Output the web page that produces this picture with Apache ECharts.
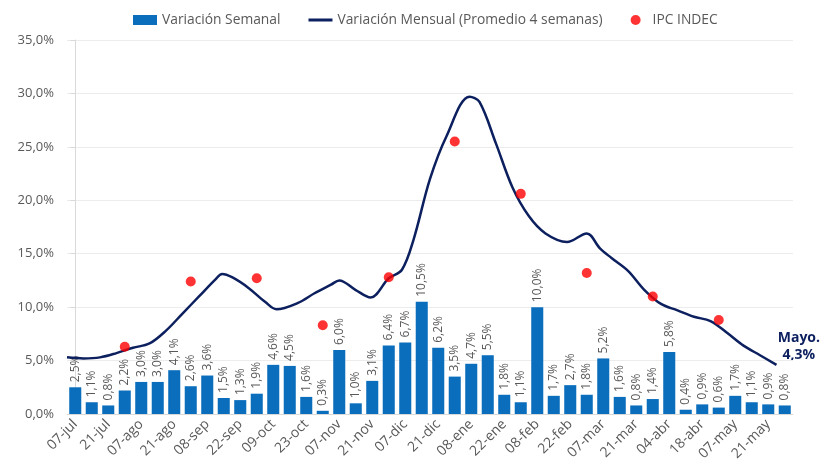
<!DOCTYPE html>
<html>
<head>
<meta charset="utf-8">
<script src="https://cdn.jsdelivr.net/npm/echarts@6/dist/echarts.min.js"></script>
<style>html,body{margin:0;padding:0;background:#fff}#c{width:827px;height:469px}</style>
</head>
<body>
<div id="c"></div>
<script>
// Weekly categories (every second one is labelled on the axis)
var weeks = ['07-jul','14-jul','21-jul','28-jul','07-ago','14-ago','21-ago','28-ago',
  '08-sep','15-sep','22-sep','29-sep','09-oct','16-oct','23-oct','30-oct',
  '07-nov','14-nov','21-nov','28-nov','07-dic','14-dic','21-dic','28-dic',
  '08-ene','15-ene','22-ene','29-ene','08-feb','15-feb','22-feb','29-feb',
  '07-mar','14-mar','21-mar','28-mar','04-abr','11-abr','18-abr','25-abr',
  '07-may','14-may','21-may','28-may'];
// Variación Semanal (%)
var weeklyValues = [2.5,1.1,0.8,2.2,3.0,3.0,4.1,2.6,3.6,1.5,1.3,1.9,4.6,4.5,1.6,0.3,
  6.0,1.0,3.1,6.4,6.7,10.5,6.2,3.5,4.7,5.5,1.8,1.1,10.0,1.7,2.7,1.8,
  5.2,1.6,0.8,1.4,5.8,0.4,0.9,0.6,1.7,1.1,0.9,0.8];
// Variación Mensual (Promedio 4 semanas): position in weeks (0 = first week) and value (%)
var monthlyWeekPos = [-0.5,0.5,1.5,2.5,3.5,4.5,5.5,6.5,7.5,8.5,8.9,9.5,10.5,11.5,12.2,13.5,
  14.5,15.5,16.0,17.0,17.9,19.0,19.8,20.5,21.5,22.5,23.9,24.5,25.5,26.5,27.5,28.5,
  29.8,31.0,31.8,32.5,33.5,34.5,35.5,36.5,37.5,38.5,39.5,40.5,41.5,42.5];
var monthlyValues = [5.3,5.2,5.3,5.7,6.2,6.6,7.8,9.4,11.0,12.6,13.1,12.8,11.8,10.5,9.8,10.4,
  11.3,12.1,12.5,11.6,10.9,12.7,13.5,16.3,22.0,26.0,29.7,29.2,25.3,21.2,18.5,16.9,
  16.1,16.9,15.5,14.6,13.4,11.6,10.3,9.7,9.1,8.7,7.6,6.4,5.5,4.6];
// IPC INDEC (%), monthly
var ipcWeeks = ['28-jul','28-ago','29-sep','30-oct','28-nov','28-dic','29-ene','29-feb','28-mar','25-abr'];
var ipcValues = [6.3,12.4,12.7,8.3,12.8,25.5,20.6,13.2,11.0,8.8];
// Y axis ticks
var yMin = 0, yMax = 35, yStep = 5;
var annotationText = 'Mayo.\n4,3%';

function pct(v){ return v.toFixed(1).replace('.', ',') + '%'; }

var lineData = monthlyValues.map(function(v, i){ return [monthlyWeekPos[i], v]; });
var ipcData = ipcWeeks.map(function(w, i){ return [w, ipcValues[i]]; });

var FONT = '"Open Sans", sans-serif';
var chart = echarts.init(document.getElementById('c'));
chart.setOption({
  animation: false,
  textStyle: { fontFamily: FONT },
  legend: {
    top: 8, left: 128,
    itemGap: 28, itemWidth: 24, itemHeight: 10,
    textStyle: { color: '#595959', fontSize: 13.8, fontFamily: FONT },
    data: [
      { name: 'Variación Semanal', icon: 'rect', itemStyle: { color: '#0a6ebd' } },
      { name: 'Variación Mensual (Promedio 4 semanas)', icon: 'path://M0,0M24,10M0,3.5L24,3.5L24,6.5L0,6.5Z', itemStyle: { color: '#0c1f5e' } },
      { name: 'IPC INDEC', icon: 'circle' }
    ]
  },
  grid: { left: 67, right: 34, top: 40, bottom: 55 },
  xAxis: [{
    type: 'category', data: weeks,
    axisLine: { lineStyle: { color: '#d9d9d9' } },
    axisTick: { show: false },
    axisLabel: { interval: 1, rotate: 45, color: '#595959', fontSize: 14, fontFamily: FONT, margin: 8 }
  }, {
    type: 'value', min: -0.5, max: weeks.length - 0.5, show: false
  }],
  yAxis: {
    type: 'value', min: yMin, max: yMax, interval: yStep,
    axisLine: { show: true, lineStyle: { color: '#d9d9d9' } },
    axisTick: { show: true, length: 5, lineStyle: { color: '#d9d9d9' } },
    splitLine: { lineStyle: { color: '#ececec' } },
    axisLabel: { color: '#595959', fontSize: 13, fontFamily: FONT, margin: 13, formatter: function(v){ return pct(v); } }
  },
  series: [{
    name: 'Variación Semanal', type: 'bar', data: weeklyValues,
    barCategoryGap: '27%',
    itemStyle: { color: '#0a6ebd' },
    label: {
      show: true, position: 'top', rotate: 90, align: 'left', verticalAlign: 'middle',
      distance: 5, color: '#595959', fontSize: 12, fontFamily: FONT,
      formatter: function(p){ return pct(p.value); }
    },
    z: 2
  }, {
    name: 'Variación Mensual (Promedio 4 semanas)', type: 'line',
    xAxisIndex: 1, data: lineData, smooth: 0.35, showSymbol: false, symbol: 'none',
    lineStyle: { color: '#0c1f5e', width: 2.5 }, itemStyle: { color: '#0c1f5e' },
    z: 3
  }, {
    name: 'IPC INDEC', type: 'scatter', data: ipcData, symbolSize: 10,
    itemStyle: { color: '#ff0000' }, z: 4
  }],
  graphic: [{
    type: 'text', right: 7, top: 330,
    style: { text: annotationText, fill: '#0c1f5e', font: 'bold 14px "Open Sans", sans-serif', textAlign: 'center', lineHeight: 17 }
  }]
});
</script>
</body>
</html>
